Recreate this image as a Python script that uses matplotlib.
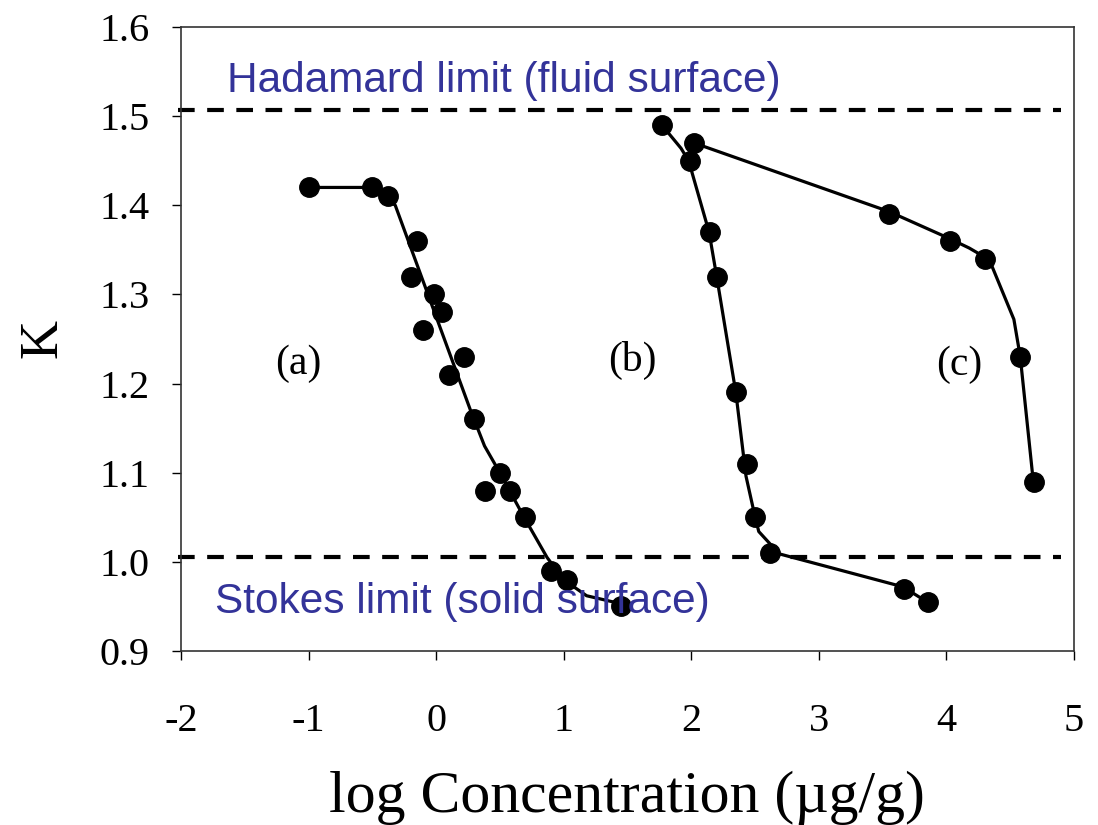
import matplotlib
matplotlib.use("Agg")
import matplotlib.pyplot as plt

plt.rcParams['axes.unicode_minus'] = False

# measured points
a_x = [-1.0, -0.5, -0.38, -0.15, -0.2, -0.02, 0.05, -0.1, 0.22, 0.1, 0.3, 0.5, 0.38, 0.58, 0.7, 0.9, 1.03, 1.45]
a_y = [1.42, 1.42, 1.41, 1.36, 1.32, 1.30, 1.28, 1.26, 1.23, 1.21, 1.16, 1.10, 1.08, 1.08, 1.05, 0.99, 0.98, 0.95]
b_x = [1.77, 2.02, 1.99, 2.15, 2.2, 2.35, 2.44, 2.5, 2.62, 3.67, 3.86]
b_y = [1.49, 1.47, 1.45, 1.37, 1.32, 1.19, 1.11, 1.05, 1.01, 0.97, 0.955]
c_x = [3.55, 4.03, 4.30, 4.58, 4.69]
c_y = [1.39, 1.36, 1.34, 1.23, 1.09]

# fitted curves
fa_x = [-1.0, -0.5, -0.32, 0.27, 0.38, 0.5, 0.69, 0.87, 1.0, 1.18, 1.45]
fa_y = [1.42, 1.42, 1.40, 1.17, 1.13, 1.10, 1.05, 1.005, 0.98, 0.962, 0.953]
fb_x = [1.77, 1.92, 1.98, 2.14, 2.2, 2.35, 2.43, 2.5, 2.53, 2.69, 3.66, 3.85]
fb_y = [1.49, 1.464, 1.45, 1.37, 1.32, 1.19, 1.096, 1.051, 1.034, 1.009, 0.972, 0.955]
fc_x = [2.02, 3.55, 4.02, 4.18, 4.30, 4.36, 4.53, 4.58, 4.68]
fc_y = [1.47, 1.393, 1.363, 1.352, 1.342, 1.331, 1.272, 1.230, 1.093]

hadamard = 1.507
stokes = 1.006

blue = '#333399'
serif = ['Liberation Serif', 'DejaVu Serif']

fig = plt.figure(figsize=(10.98, 8.25), dpi=100)
ax = fig.add_axes([0.1648, 0.2109, 0.8132, 0.7564])

ax.plot([-2.02, 4.9], [hadamard, hadamard], color='black', lw=3, dashes=(4, 3), clip_on=False)
ax.plot([-2.02, 4.9], [stokes, stokes], color='black', lw=3, dashes=(4, 3), clip_on=False)

for fx, fy in [(fa_x, fa_y), (fb_x, fb_y), (fc_x, fc_y)]:
    ax.plot(fx, fy, color='black', lw=2.3)
for px, py in [(a_x, a_y), (b_x, b_y), (c_x, c_y)]:
    ax.plot(px, py, 'o', color='black', ms=14, clip_on=False)

ax.text(-1.64, 1.527, 'Hadamard limit (fluid surface)', color=blue, fontsize=30.5,
        family='Liberation Sans', va='baseline')
ax.text(-1.73, 0.955, 'Stokes limit (solid surface)', color=blue, fontsize=30.5,
        family='Liberation Sans', va='center')

for lbl, lx, ly in [('(a)', -1.08, 1.222), ('(b)', 1.54, 1.226), ('(c)', 4.1, 1.221)]:
    ax.text(lx, ly, lbl, fontsize=30, family=serif, ha='center', va='center')

ax.set_xlim(-2, 5)
ax.set_ylim(0.9, 1.6)
ax.set_xticks(range(-2, 6))
ax.set_yticks([0.9, 1.0, 1.1, 1.2, 1.3, 1.4, 1.5, 1.6])
ax.set_yticklabels(['0.9', '1.0', '1.1', '1.2', '1.3', '1.4', '1.5', '1.6'])
ax.tick_params(direction='out', length=6.5, width=1, pad=16, labelsize=29)
for lab in ax.get_xticklabels() + ax.get_yticklabels():
    lab.set_family(serif)
ax.tick_params(axis='x', pad=31)

for s in ax.spines.values():
    s.set_color('#333333')
    s.set_linewidth(1.2)

ax.set_xlabel('log Concentration (\u00b5g/g)', fontsize=43, family=serif, labelpad=22)
ax.set_ylabel('K', fontsize=39, family=serif, labelpad=22)

fig.savefig('out.png', dpi=100)
